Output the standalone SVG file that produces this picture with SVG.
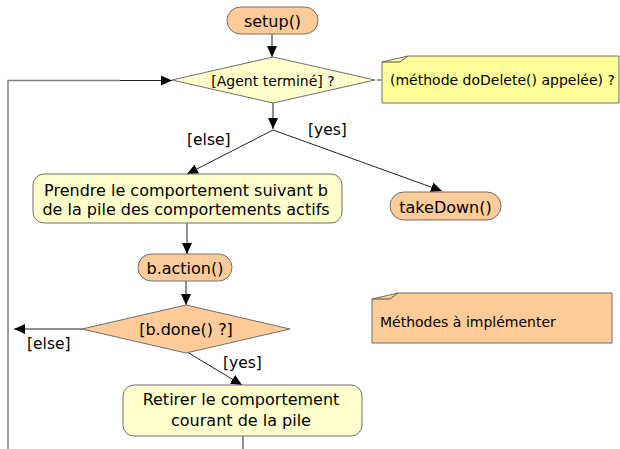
<svg xmlns="http://www.w3.org/2000/svg" width="620" height="449" viewBox="0 0 620 449">
  <style>
    text { font-family: "DejaVu Sans", Verdana, sans-serif; fill: #000; }
    .t16 { font-size: 16px; }
    .t14 { font-size: 14px; }
    .lbl { font-size: 15.5px; }
    .mid { text-anchor: middle; }
    .peach { fill: #FFCC99; stroke: #6e6e6e; stroke-width: 1; }
    .pale { fill: #FFFFCC; stroke: #6e6e6e; stroke-width: 1; }
    .note { fill: #FFFF99; stroke: #6e6e6e; stroke-width: 1; }
    .notep { fill: #FFCC99; stroke: #6e6e6e; stroke-width: 1; }
    .fold { fill: none; stroke: #555; stroke-width: 1; }
    .edge { fill: none; stroke: #222; stroke-width: 1; }
    .gray { fill: none; stroke: #808080; stroke-width: 1.5; }
  </style>
  <defs>
    <marker id="arrow" markerUnits="userSpaceOnUse" markerWidth="12" markerHeight="10" refX="11" refY="5" orient="auto">
      <path d="M0,0 L11,5 L0,10 Z" fill="#000"/>
    </marker>
  </defs>

  <rect width="620" height="449" fill="#fff"/>

  <!-- connectors -->
  <g id="connectors">
    <path class="edge" d="M272,34 L272,57" marker-end="url(#arrow)"/>
    <path class="gray" d="M8,449 L8,80.5 L120,80.5"/>
    <path class="edge" d="M120,80.5 L172,80.5" marker-end="url(#arrow)"/>
    <path class="gray" d="M377,80 L383,80"/>
    <path class="edge" d="M273,103 L273,129" marker-end="url(#arrow)"/>
    <path class="edge" d="M273,130 L187,174" marker-end="url(#arrow)"/>
    <path class="edge" d="M273,130 L442,191" marker-end="url(#arrow)"/>
    <path class="edge" d="M187,223 L187,254" marker-end="url(#arrow)"/>
    <path class="edge" d="M186,281 L186,305" marker-end="url(#arrow)"/>
    <path class="edge" d="M82,329 L14,329" marker-end="url(#arrow)"/>
    <path class="edge" d="M187,352 L242,385" marker-end="url(#arrow)"/>
    <path class="edge" d="M243,436 L243,449"/>
    <text class="lbl" x="187" y="145">[else]</text>
    <text class="lbl" x="308" y="135">[yes]</text>
    <text class="lbl" x="27" y="349">[else]</text>
    <text class="lbl" x="223" y="368">[yes]</text>
  </g>

  <g id="setup">
    <rect class="peach" x="227" y="7" width="91" height="27" rx="13.5"/>
    <text class="t16 mid" x="272.5" y="26.5">setup()</text>
  </g>

  <g id="agent-termine">
    <polygon class="pale" points="273,57 375,80 273,103 172,80"/>
    <text class="t14 mid" x="273" y="86">[Agent terminé] ?</text>
  </g>

  <g id="note-dodelete">
    <polygon class="note" points="382,62 408,56 619,56 619,103 382,103"/>
    <path class="fold" d="M382,62 L400,62 L408,56"/>
    <text class="t14" x="390" y="85">(méthode doDelete() appelée) ?</text>
  </g>

  <g id="prendre">
    <rect class="pale" x="33" y="174" width="309" height="49" rx="11"/>
    <text class="t16 mid" x="186" y="196">Prendre le comportement suivant b</text>
    <text class="t16 mid" x="186" y="215">de la pile des comportements actifs</text>
  </g>

  <g id="takedown">
    <rect class="peach" x="390" y="192" width="111" height="28" rx="14"/>
    <text class="t16 mid" x="445.5" y="212.5">takeDown()</text>
  </g>

  <g id="action">
    <rect class="peach" x="138" y="254" width="94" height="27" rx="13.5"/>
    <text class="t16 mid" x="185" y="274">b.action()</text>
  </g>

  <g id="done">
    <polygon class="peach" points="186,305 290,329 186,353 82,329"/>
    <text class="t16 mid" x="186" y="335">[b.done() ?]</text>
  </g>

  <g id="retirer">
    <rect class="pale" x="123" y="385" width="239" height="51" rx="11"/>
    <text class="t16 mid" x="241" y="405">Retirer le comportement</text>
    <text class="t16 mid" x="241" y="426">courant de la pile</text>
  </g>

  <g id="note-methodes">
    <polygon class="notep" points="372,299 398,293 612,293 612,343 372,343"/>
    <path class="fold" d="M372,299 L390,299 L398,293"/>
    <text class="t14" x="380" y="327">Méthodes à implémenter</text>
  </g>
</svg>
